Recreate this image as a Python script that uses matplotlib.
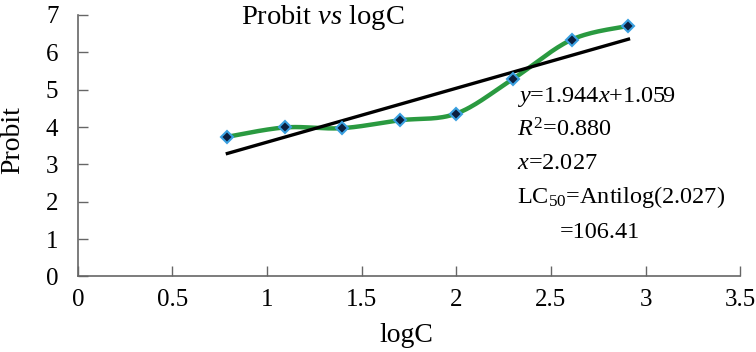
import numpy as np
import matplotlib
matplotlib.use("Agg")
import matplotlib.pyplot as plt

plt.rcParams['font.family'] = ['Liberation Serif', 'DejaVu Serif']
plt.rcParams['mathtext.fontset'] = 'custom'
plt.rcParams['mathtext.rm'] = 'Liberation Serif'
plt.rcParams['mathtext.it'] = 'Liberation Serif:italic'

log_c = [0.79, 1.095, 1.395, 1.70, 2.0, 2.30, 2.61, 2.91]
probit = [3.74, 3.99, 3.97, 4.18, 4.36, 5.29, 6.34, 6.71]
x_ticks = [0, 0.5, 1, 1.5, 2, 2.5, 3, 3.5]
x_tick_labels = ['0', '0.5', '1', '1.5', '2', '2.5', '3', '3.5']
y_ticks = [0, 1, 2, 3, 4, 5, 6, 7]
y_tick_labels = ['0', '1', '2', '3', '4', '5', '6', '7']
annotations = [r'$y$=1.944$x$+1.059', r'$R^2$=0.880', r'$x$=2.027',
               r'LC$_{50}$=Antilog(2.027)', '=106.41']


def smooth_curve(xs, ys, n=30):
    # Excel-style smoothed line (Catmull-Rom via cubic Bezier)
    p = np.column_stack([xs, ys])
    p = np.vstack([p[0], p, p[-1]])
    out = []
    for i in range(1, len(p) - 2):
        p0, p1, p2, p3 = p[i - 1], p[i], p[i + 1], p[i + 2]
        c1 = p1 + (p2 - p0) / 6
        c2 = p2 - (p3 - p1) / 6
        t = np.linspace(0, 1, n)[:, None]
        seg = ((1 - t) ** 3 * p1 + 3 * (1 - t) ** 2 * t * c1
               + 3 * (1 - t) * t ** 2 * c2 + t ** 3 * p2)
        out.append(seg)
    out = np.vstack(out)
    return out[:, 0], out[:, 1]


fig = plt.figure(figsize=(7.56, 3.52), dpi=100)
ax = fig.add_axes([0.103, 0.2145, 0.876, 0.743])

sx, sy = smooth_curve(log_c, probit)
ax.plot(sx, sy, color='#2a9a40', lw=3.2, zorder=2)

slope, intercept = np.polyfit(log_c, probit, 1)
fx = np.array([log_c[0], log_c[-1]])
ax.plot(fx, slope * fx + intercept, color='black', lw=2.4, zorder=3)

ax.plot(log_c, probit, linestyle='none', marker='D', markersize=6.5,
        markerfacecolor='#0b1f3f', markeredgecolor='#3aa0e0',
        markeredgewidth=1.5, zorder=4)

ax.set_xlim(0, 3.5)
ax.set_ylim(0, 7)
ax.set_xticks(x_ticks, labels=x_tick_labels, fontsize=18,
              fontfamily='Liberation Serif')
ax.set_yticks(y_ticks, labels=y_tick_labels, fontsize=18,
              fontfamily='Liberation Serif')
ax.tick_params(direction='in', length=7, width=1, color='#666666')
ax.tick_params(axis='x', pad=9)
ax.tick_params(axis='y', pad=14)
for s in ['top', 'right']:
    ax.spines[s].set_visible(False)
for s in ['left', 'bottom']:
    ax.spines[s].set_color('#666666')
    ax.spines[s].set_linewidth(1.2)

fig.text(406 / 756, 1 - 335 / 352, 'logC', fontsize=20,
         ha='center', va='center')
fig.text(13 / 756, 1 - 140 / 352, 'Probit', fontsize=20, rotation=90,
         ha='center', va='center')

fig.text(323 / 756, 1 - 17 / 352, r'Probit $vs$ logC', fontsize=20.5,
         ha='center', va='center')

xs_pix = [517, 517, 517, 517, 560]
ys_pix = [96.7, 130, 163, 197, 233]
for txt, xp, yp in zip(annotations, xs_pix, ys_pix):
    fig.text(xp / 756, 1 - yp / 352, txt, fontsize=17.5, ha='left',
             va='center')

fig.savefig('out.png', dpi=100, facecolor='white')
